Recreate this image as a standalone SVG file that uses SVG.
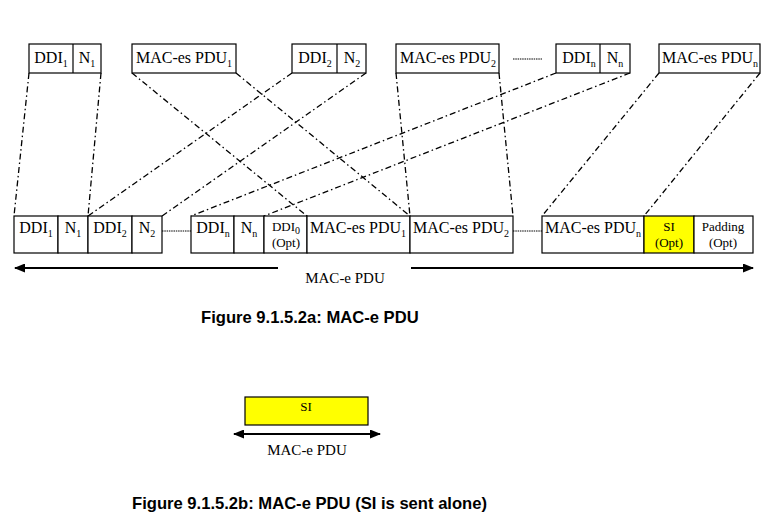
<svg xmlns="http://www.w3.org/2000/svg" width="777" height="519" viewBox="0 0 777 519">
<style>
.b{fill:#fff;stroke:#000;stroke-width:1.2}
.y{fill:#ffff00;stroke:#000;stroke-width:1.2}
.t{font-family:"Liberation Serif",serif;font-size:16px;fill:#000;text-anchor:middle}
.s{font-family:"Liberation Serif",serif;font-size:13px;fill:#000;text-anchor:middle}
.sub{font-size:10px}
.c{fill:none;stroke:#000;stroke-width:1.3;stroke-dasharray:6 3 1.5 3}
.d{fill:none;stroke:#000;stroke-width:1;stroke-dasharray:1.5 0.8}
.a{fill:none;stroke:#000;stroke-width:1.8}
.cap{font-family:"Liberation Sans",Arial,sans-serif;font-weight:bold;font-size:16.6px;fill:#000}
</style>
<defs>
<marker id="ah" viewBox="0 0 11 9" refX="10" refY="4.5" markerWidth="11" markerHeight="9" markerUnits="userSpaceOnUse" orient="auto-start-reverse"><path d="M0,0 L11,4.5 L0,9 z" fill="#000"/></marker>
</defs>
<rect width="777" height="519" fill="#fff"/>

<g id="connectors">
<line class="c" x1="29" y1="73" x2="14" y2="216"/>
<line class="c" x1="101" y1="73" x2="88" y2="216"/>
<line class="c" x1="132" y1="73" x2="307" y2="216"/>
<line class="c" x1="236" y1="73" x2="410" y2="216"/>
<line class="c" x1="292" y1="73" x2="88" y2="216"/>
<line class="c" x1="366" y1="73" x2="162" y2="216"/>
<line class="c" x1="396" y1="73" x2="410" y2="216"/>
<line class="c" x1="499" y1="73" x2="513" y2="216"/>
<line class="c" x1="556" y1="73" x2="191" y2="216"/>
<line class="c" x1="630" y1="73" x2="264" y2="216"/>
<line class="c" x1="659" y1="73" x2="542" y2="216"/>
<line class="c" x1="760" y1="73" x2="644" y2="216"/>
<line class="d" x1="513" y1="59" x2="542" y2="59"/>
<line class="d" x1="162" y1="231" x2="191" y2="231"/>
<line class="d" x1="513" y1="231" x2="542" y2="231"/>
<line class="a" x1="278" y1="268" x2="15" y2="268" marker-end="url(#ah)"/>
<line class="a" x1="411" y1="268" x2="753" y2="268" marker-end="url(#ah)"/>
<line class="a" x1="234" y1="434" x2="380" y2="434" marker-start="url(#ah)" marker-end="url(#ah)"/>
</g>

<g id="top-ddi1">
<rect class="b" x="29" y="44" width="72" height="29"/><line class="b" x1="73" y1="44" x2="73" y2="73"/>
<text class="t" x="51" y="63">DDI<tspan class="sub" dy="4">1</tspan></text>
<text class="t" x="87" y="63">N<tspan class="sub" dy="4">1</tspan></text>
</g>
<g id="top-pdu1">
<rect class="b" x="132" y="44" width="104" height="29"/>
<text class="t" x="184" y="63">MAC-es PDU<tspan class="sub" dy="4">1</tspan></text>
</g>
<g id="top-ddi2">
<rect class="b" x="292" y="44" width="74" height="29"/><line class="b" x1="337" y1="44" x2="337" y2="73"/>
<text class="t" x="315" y="63">DDI<tspan class="sub" dy="4">2</tspan></text>
<text class="t" x="352" y="63">N<tspan class="sub" dy="4">2</tspan></text>
</g>
<g id="top-pdu2">
<rect class="b" x="396" y="44" width="103" height="29"/>
<text class="t" x="448" y="63">MAC-es PDU<tspan class="sub" dy="4">2</tspan></text>
</g>
<g id="top-ddin">
<rect class="b" x="556" y="44" width="74" height="29"/><line class="b" x1="600" y1="44" x2="600" y2="73"/>
<text class="t" x="579" y="63">DDI<tspan class="sub" dy="4">n</tspan></text>
<text class="t" x="615" y="63">N<tspan class="sub" dy="4">n</tspan></text>
</g>
<g id="top-pdun">
<rect class="b" x="659" y="44" width="101" height="29"/>
<text class="t" x="710" y="63">MAC-es PDU<tspan class="sub" dy="4">n</tspan></text>
</g>

<g id="bot-ddi1">
<rect class="b" x="14" y="216" width="44" height="37"/>
<text class="t" x="36" y="233">DDI<tspan class="sub" dy="4">1</tspan></text>
</g>
<g id="bot-n1">
<rect class="b" x="58" y="216" width="30" height="37"/>
<text class="t" x="73" y="233">N<tspan class="sub" dy="4">1</tspan></text>
</g>
<g id="bot-ddi2">
<rect class="b" x="88" y="216" width="44" height="37"/>
<text class="t" x="110" y="233">DDI<tspan class="sub" dy="4">2</tspan></text>
</g>
<g id="bot-n2">
<rect class="b" x="132" y="216" width="30" height="37"/>
<text class="t" x="147" y="233">N<tspan class="sub" dy="4">2</tspan></text>
</g>
<g id="bot-ddin">
<rect class="b" x="191" y="216" width="43" height="37"/>
<text class="t" x="213" y="233">DDI<tspan class="sub" dy="4">n</tspan></text>
</g>
<g id="bot-nn">
<rect class="b" x="234" y="216" width="30" height="37"/>
<text class="t" x="249" y="233">N<tspan class="sub" dy="4">n</tspan></text>
</g>
<g id="bot-ddi0">
<rect class="b" x="264" y="216" width="43" height="37"/>
<text class="s" x="286" y="231">DDI<tspan class="sub" dy="3">0</tspan></text>
<text class="s" x="286" y="247">(Opt)</text>
</g>
<g id="bot-pdu1">
<rect class="b" x="307" y="216" width="103" height="37"/>
<text class="t" x="358" y="233">MAC-es PDU<tspan class="sub" dy="4">1</tspan></text>
</g>
<g id="bot-pdu2">
<rect class="b" x="410" y="216" width="103" height="37"/>
<text class="t" x="461" y="233">MAC-es PDU<tspan class="sub" dy="4">2</tspan></text>
</g>
<g id="bot-pdun">
<rect class="b" x="542" y="216" width="102" height="37"/>
<text class="t" x="593" y="233">MAC-es PDU<tspan class="sub" dy="4">n</tspan></text>
</g>
<g id="bot-si">
<rect class="y" x="644" y="216" width="50" height="37"/>
<text class="s" x="669" y="231">SI</text>
<text class="s" x="669" y="247">(Opt)</text>
</g>
<g id="bot-pad">
<rect class="b" x="694" y="216" width="59" height="37"/>
<text class="s" x="723" y="231">Padding</text>
<text class="s" x="723" y="247">(Opt)</text>
</g>
<text class="t" x="345" y="283" style="font-size:15px">MAC-e PDU</text>
<text class="cap" x="201" y="323">Figure 9.1.5.2a: MAC-e PDU</text>

<g id="alone-si">
<rect class="y" x="245" y="397" width="123" height="28"/>
<text class="s" x="306" y="411">SI</text>
</g>
<text class="t" x="307" y="455" style="font-size:15px">MAC-e PDU</text>
<text class="cap" x="132" y="509">Figure 9.1.5.2b: MAC-e PDU (SI is sent alone)</text>
</svg>
